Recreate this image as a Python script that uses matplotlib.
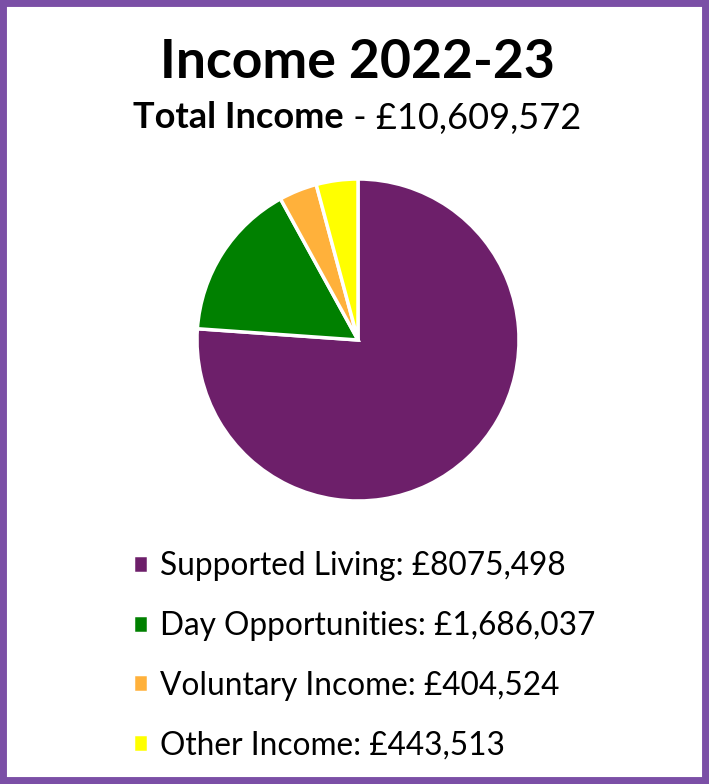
import matplotlib
matplotlib.use("Agg")
from matplotlib import pyplot as plt
from matplotlib.patches import Rectangle

### chart data
categories = ["Supported Living", "Day Opportunities", "Voluntary Income", "Other Income"]
amounts = [8075498, 1686037, 404524, 443513]
amount_labels = ["£8075,498", "£1,686,037", "£404,524", "£443,513"]
colours = ["#6D1F6A", "#008000", "#FFB13B", "#FFFF00"]
title = "Income 2022-23"
total_label = "Total Income"
total_value = " - £10,609,572"

plt.rcParams["font.family"] = ["Lato", "DejaVu Sans"]

W, H = 709, 784
fig = plt.figure(figsize=(W / 100, H / 100), dpi=100)
fig.patch.set_facecolor("white")

### purple frame round the picture
fig.patches.append(Rectangle((0, 0), 1, 1, transform=fig.transFigure,
                             fill=False, edgecolor="#7B4FA6", linewidth=10))

### pie centred at (358, 340) px, radius 161 px
cx, cy, r = 358, 340, 161
ax = fig.add_axes([(cx - r) / W, (H - cy - r) / H, 2 * r / W, 2 * r / H])
wedges, _ = ax.pie(amounts, colors=colours, startangle=90, counterclock=False,
                   wedgeprops=dict(edgecolor="white", linewidth=2.5))
ax.set_xlim(-1.0, 1.0)
ax.set_ylim(-1.0, 1.0)

### titles
fig.text(357 / W, 1 - 62 / H, title, ha="center", va="center",
         fontsize=38.5, fontweight="bold")

fig.canvas.draw()
renderer = fig.canvas.get_renderer()
t1 = fig.text(0, 1 - 118 / H, total_label, ha="left", va="center",
              fontsize=26, fontweight="bold")
t2 = fig.text(0, 1 - 118 / H, total_value, ha="left", va="center", fontsize=26)
w1 = t1.get_window_extent(renderer).width
w2 = t2.get_window_extent(renderer).width
x0 = 357 - (w1 + w2) / 2
t1.set_x(x0 / W)
t2.set_x((x0 + w1) / W)

### legend below the pie
labels = [f"{c}: {a}" for c, a in zip(categories, amount_labels)]
fig.legend(wedges, labels, loc="upper left",
           bbox_to_anchor=(104 / W, 1 - 522.5 / H), frameon=False,
           fontsize=22.8, handlelength=0.5, handleheight=0.5,
           handletextpad=0.36, labelspacing=0.94)

plt.savefig("out.png", dpi=100)
